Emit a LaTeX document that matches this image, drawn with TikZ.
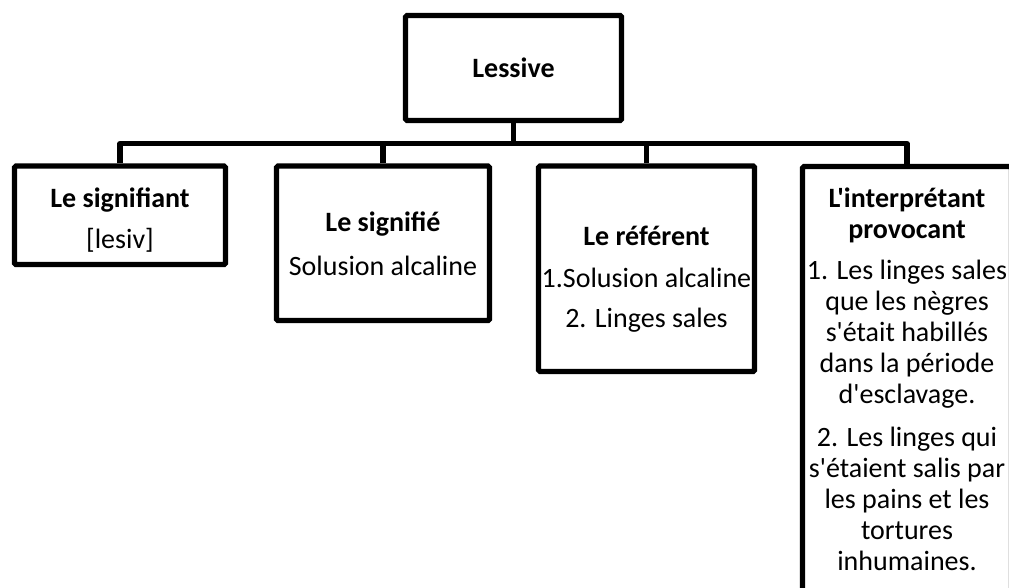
\documentclass[tikz,border=0pt]{standalone}
\usepackage{fontspec}
\setmainfont{Carlito}[Ligatures=TeXOff]
\begin{document}
\begin{tikzpicture}[x=1pt,y=-1pt,
  box/.style={draw, line width=5.3pt, rounded corners=1.5pt, inner sep=0pt},
  txt/.style={align=center, inner sep=0pt, font=\fontsize{28}{31}\selectfont},
  conn/.style={line width=5.3pt, line join=round}]
\clip (0,0) rectangle (1009,587);
\fill[white] (0,0) rectangle (1009,587);
\node[box, minimum width=216pt, minimum height=105pt] (L) at (513.5,68) {};
\node[txt] (tL) at (L.center) {\textbf{Lessive}};
\node[box, minimum width=211pt, minimum height=98.5pt] (b1) at (120,215.25) {};
\node[txt] (t1) at ([yshift=-5pt]b1.center) {\textbf{Le signifiant}\\[10pt][lesiv]};
\node[box, minimum width=213pt, minimum height=154.5pt] (b2) at (383,243.25) {};
\node[txt] (t2) at ([yshift=-1pt]b2.center) {\textbf{Le signifié}\\[13pt]Solusion alcaline};
\node[box, minimum width=216pt, minimum height=205.5pt] (b3) at (646.5,268.75) {};
\node[txt] (t3) at ([yshift=-10pt]b3.center)
  {\textbf{Le référent}\\[11pt]1.Solusion alcaline\\[9pt]2. Linges sales};
\node[box, minimum width=209pt, minimum height=454pt] (b4) at (907,393.5) {};
\node[txt, anchor=north] (t4) at ([yshift=-23.5pt]b4.north)
  {\textbf{L'interprétant}\\\textbf{provocant}\\[10pt]1. Les linges sales\\que les nègres\\s'était habillés\\dans la période\\d'esclavage.\\[12pt]2. Les linges qui\\s'étaient salis par\\les pains et les\\tortures\\inhumaines.};
\coordinate (bus) at (0,143.5);
\draw[conn] (b1.north) |- (b4.north |- bus) -- (b4.north);
\draw[conn] (L.south) -- (L.south |- bus);
\draw[conn] (b2.north) -- (b2.north |- bus);
\draw[conn] (b3.north) -- (b3.north |- bus);
\end{tikzpicture}
\end{document}
